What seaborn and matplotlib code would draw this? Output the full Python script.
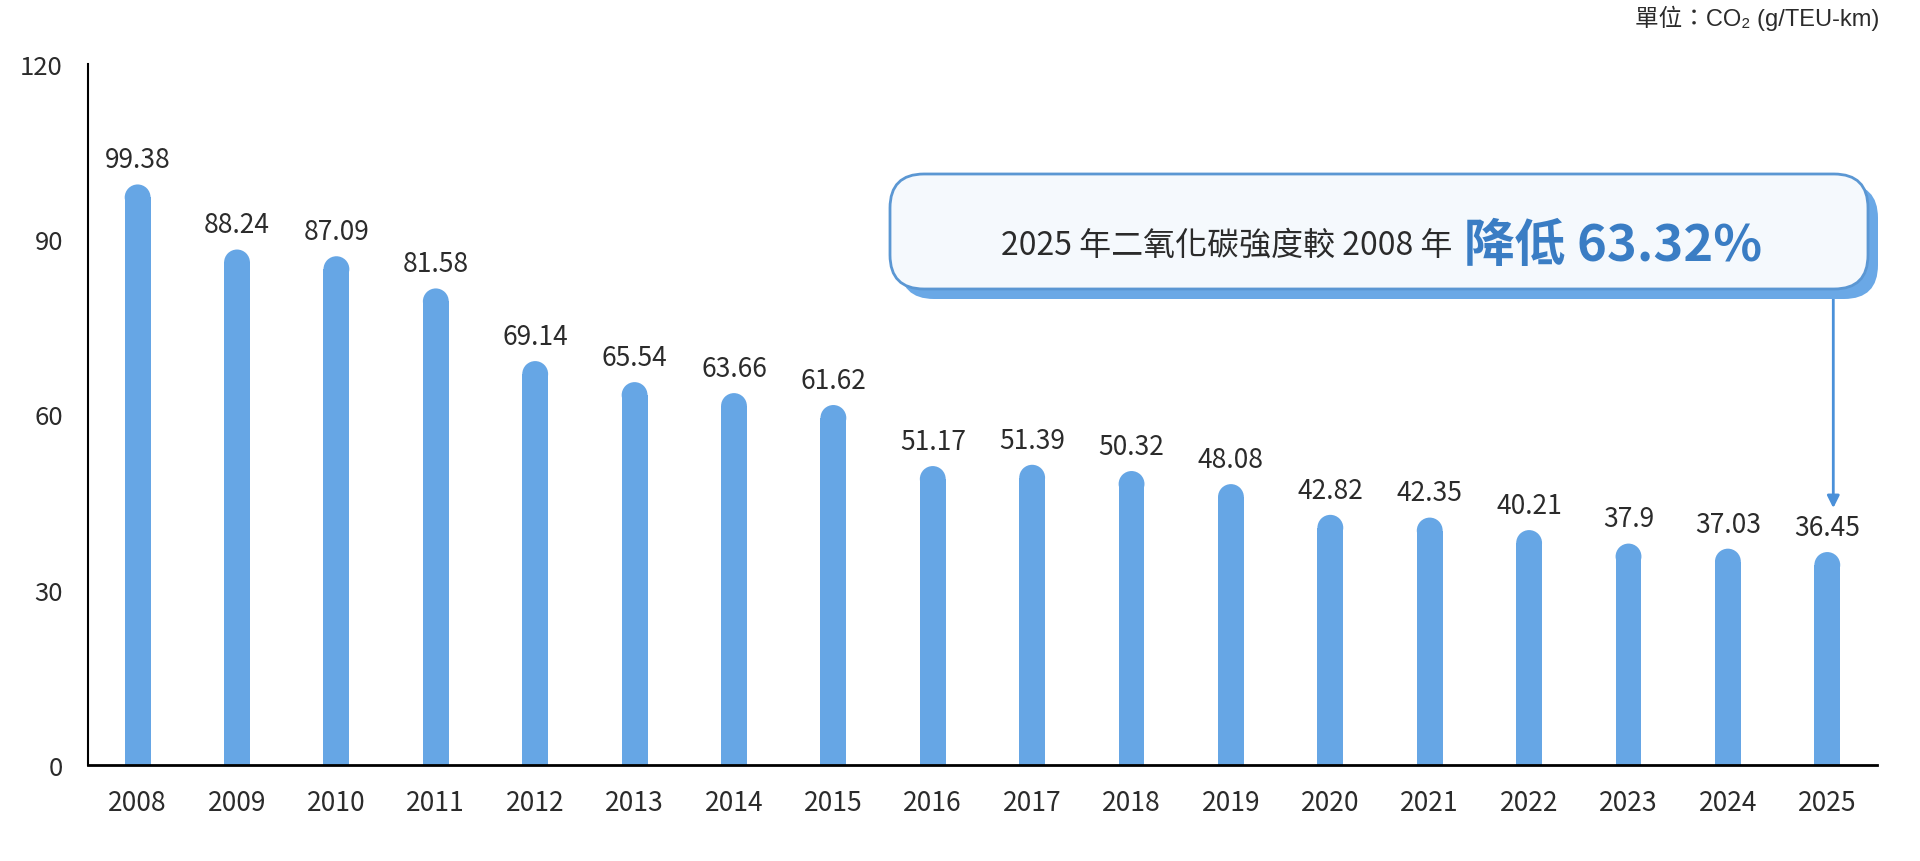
import numpy as np
import pandas as pd
import seaborn as sns
import matplotlib.pyplot as plt
from matplotlib.patches import Ellipse, FancyBboxPatch
from matplotlib.transforms import IdentityTransform

# data
years = [str(y) for y in range(2008, 2026)]
co2 = [99.38, 88.24, 87.09, 81.58, 69.14, 65.54, 63.66, 61.62, 51.17,
       51.39, 50.32, 48.08, 42.82, 42.35, 40.21, 37.9, 37.03, 36.45]
y_ticks = [0, 30, 60, 90, 120]
unit_label = '單位：CO₂ (g/TEU-km)'
note_text = '2025 年二氧化碳強度較 2008 年'
note_highlight = '降低 63.32%'

bar_color = '#66A6E5'
dark = '#2b2b2b'

sns.set_style('white')
plt.rcParams['font.family'] = ['Noto Sans CJK TC', 'DejaVu Sans']

df = pd.DataFrame({'year': years, 'co2': co2})

fig = plt.figure(figsize=(19.2, 8.62), dpi=100)
ax = fig.add_axes([0.0458, 0.1114, 0.9318, 0.8132])

sns.barplot(data=df, x='year', y='co2', color=bar_color, width=0.26,
            linewidth=0, saturation=1, ax=ax)

ax.set_ylim(0, 120)
ax.set_xlim(-0.5, len(years) - 0.5)
ax.set_yticks(y_ticks)
ax.set_xlabel('')
ax.set_ylabel('')
ax.tick_params(axis='x', length=0, labelsize=19, labelcolor=dark, pad=17)
ax.tick_params(axis='y', length=0, labelsize=18.5, labelcolor=dark, pad=18)
sns.despine(ax=ax)
ax.spines['left'].set_linewidth(1.5)
ax.spines['bottom'].set_linewidth(2)
ax.spines['left'].set_color('black')
ax.spines['bottom'].set_color('black')

# rounded bar tops
px_x = ax.transData.transform((1, 0))[0] - ax.transData.transform((0, 0))[0]
px_y = ax.transData.transform((0, 1))[1] - ax.transData.transform((0, 0))[1]
bars = list(ax.patches)
for p in bars:
    x0, w, h = p.get_x(), p.get_width(), p.get_height()
    ry = (w * px_x / 2) / px_y
    p.set_height(h - ry)
    ax.add_patch(Ellipse((x0 + w / 2, h - ry), w, 2 * ry,
                         facecolor=bar_color, edgecolor='none'))

# value labels
for i, v in enumerate(co2):
    ax.annotate(f'{v:g}', xy=(i, v), xytext=(0, 8), textcoords='offset points',
                ha='center', va='bottom', fontsize=19, color=dark)

# unit label
fig.text(0.979, 0.979, unit_label, ha='right', va='center', fontsize=17,
         color=dark, family=['Liberation Sans', 'Noto Sans CJK TC', 'DejaVu Sans'])

# callout box (pixel coords)
H = 862
bx0, bx1, by_top, by_bot = 890, 1868, 175, 290
shadow = FancyBboxPatch((bx0 + 10, H - by_bot - 10), bx1 - bx0, by_bot - by_top,
                        boxstyle='round,pad=0,rounding_size=34',
                        transform=IdentityTransform(), facecolor='#6AA8E6',
                        edgecolor='none', zorder=5)
box = FancyBboxPatch((bx0, H - by_bot), bx1 - bx0, by_bot - by_top,
                     boxstyle='round,pad=0,rounding_size=34',
                     transform=IdentityTransform(), facecolor='#F5F9FD',
                     edgecolor='#5B97D3', linewidth=2, zorder=6)
fig.patches.extend([shadow, box])

fig.text(1452, H - 255, note_text, transform=IdentityTransform(), ha='right',
         va='baseline', fontsize=23, color=dark, zorder=7)
fig.text(1464, H - 261, note_highlight, transform=IdentityTransform(), ha='left',
         va='baseline', fontsize=36.5, fontweight='bold', color='#3A7DC4', zorder=7)

# arrow from box to the 2025 bar
last = len(co2) - 1
tip = ax.transData.transform((last, co2[last]))
tip_x = tip[0] + 6
ax.annotate('', xy=(tip_x, tip[1] + 44), xycoords=IdentityTransform(),
            xytext=(tip_x, H - by_bot), textcoords=IdentityTransform(),
            arrowprops=dict(arrowstyle='-|>', color='#4A90D9', lw=2,
                            mutation_scale=18, shrinkA=0, shrinkB=0),
            annotation_clip=False)

fig.savefig('out.png', dpi=100)
